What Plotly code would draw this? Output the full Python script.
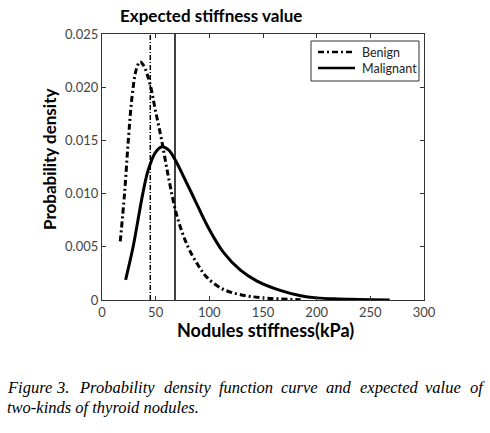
import plotly.graph_objects as go

# Benign probability density
benign_x = [17, 21, 24.5, 28, 32, 35.5, 39, 44.7, 49.4, 55.6, 62, 69, 76, 82, 90, 98, 113, 129, 150, 185]
benign_y = [0.0055, 0.0100, 0.0150, 0.0191, 0.0217, 0.0224, 0.0220, 0.0203, 0.0180, 0.0150, 0.0115,
            0.0082, 0.0060, 0.0046, 0.0032, 0.0021, 0.0010, 0.0005, 0.0002, 0.00003]

# Malignant probability density
malig_x = [22, 29, 38, 43, 50, 56, 62, 68, 76, 87, 98, 113, 129, 144, 166, 185, 200, 220, 240, 268]
malig_y = [0.0019, 0.0050, 0.0100, 0.0122, 0.0139, 0.0144, 0.0141, 0.0132, 0.0116, 0.0093, 0.0070,
           0.0045, 0.0028, 0.0018, 0.0009, 0.0004, 0.0002, 0.0001, 0.00004, 0.00001]

# Expected stiffness values
benign_expected = 45
malig_expected = 68

x_ticks = [0, 50, 100, 150, 200, 250, 300]
y_ticks = [0, 0.005, 0.010, 0.015, 0.020, 0.025]
y_tick_text = ["0", "0.005", "0.010", "0.015", "0.020", "0.025"]

series_names = ["Benign", "Malignant"]
title_text = "Expected stiffness value"
x_title = "Nodules stiffness(kPa)"
y_title = "Probability density"
caption_1 = "Figure 3. Probability density function curve and expected value of"
caption_2 = "two-kinds of thyroid nodules."

BENIGN_DASH = "6px,3px,2px,3px"

fig = go.Figure()
fig.add_trace(go.Scatter(x=benign_x, y=benign_y, mode="lines", name=series_names[0], showlegend=False,
                         line=dict(color="black", width=3, dash=BENIGN_DASH, shape="spline")))
fig.add_trace(go.Scatter(x=malig_x, y=malig_y, mode="lines", name=series_names[1], showlegend=False,
                         line=dict(color="black", width=3, shape="spline")))
fig.add_trace(go.Scatter(x=[benign_expected, benign_expected], y=[0, y_ticks[-1]], mode="lines",
                         showlegend=False, line=dict(color="black", width=1.5, dash="5px,2px,1px,2px")))
fig.add_trace(go.Scatter(x=[malig_expected, malig_expected], y=[0, y_ticks[-1]], mode="lines",
                         showlegend=False, line=dict(color="black", width=1.5)))

axis_common = dict(showline=True, linecolor="#333", linewidth=1.2, mirror="ticks", ticks="inside",
                   ticklen=4, tickcolor="#333", showgrid=False, zeroline=False, automargin=False,
                   tickfont=dict(family="Lato", size=13, color="#444"))

fig.update_xaxes(range=[0, 300], tickvals=x_ticks, **axis_common)
fig.update_yaxes(range=[0, 0.025], tickvals=y_ticks, ticktext=y_tick_text, **axis_common)

# plot area in pixels: left 102, right 424, top 34, bottom 300
PL, PR, PT, PB = 102, 424, 34, 300


def px_x(p):
    return (p - PL) / (PR - PL)


def px_y(p):
    return (PB - p) / (PB - PT)


bold = dict(family="Lato", color="black", weight="bold")
annotations = [
    dict(text=title_text, x=px_x(211), y=px_y(15), font=dict(size=17, **bold)),
    dict(text=x_title, x=px_x(265), y=px_y(330), font=dict(size=18, **bold)),
    dict(text=y_title, x=px_x(49), y=px_y(160), textangle=-90, font=dict(size=17, **bold)),
]
for a in annotations:
    a.update(xref="paper", yref="paper", xanchor="center", yanchor="middle", showarrow=False)

# legend box drawn by hand (box, line samples and labels)
shapes = [dict(type="rect", xref="paper", yref="paper", x0=px_x(311), x1=px_x(419), y0=px_y(81), y1=px_y(41),
               line=dict(color="#333", width=1), fillcolor="white", layer="above")]
legend_rows = [52, 68]
legend_dash = [BENIGN_DASH, "solid"]
for name, row, dash in zip(series_names, legend_rows, legend_dash):
    shapes.append(dict(type="line", xref="paper", yref="paper", x0=px_x(318), x1=px_x(355),
                       y0=px_y(row), y1=px_y(row), line=dict(color="black", width=2.5, dash=dash),
                       layer="above"))
    annotations.append(dict(text=name, x=px_x(360), y=px_y(row), xref="paper", yref="paper",
                            xanchor="left", yanchor="middle", showarrow=False,
                            font=dict(family="Lato", size=12.5, color="#222")))

# caption, first line justified across the page width
cap_font = dict(family="Liberation Serif", size=16.5, color="black")
word_starts = [5, 54, 77, 162, 217, 279, 324, 358, 423, 468]
for w, xs in zip(caption_1.split(" "), word_starts):
    annotations.append(dict(text="<i>" + w + "</i>", x=px_x(xs), y=px_y(387), xref="paper", yref="paper",
                            xanchor="left", yanchor="middle", showarrow=False, font=cap_font))
annotations.append(dict(text="<i>" + caption_2 + "</i>", x=px_x(5), y=px_y(408), xref="paper", yref="paper",
                        xanchor="left", yanchor="middle", showarrow=False, font=cap_font))

fig.update_layout(
    width=490, height=433,
    margin=dict(l=PL, r=490 - PR, t=PT, b=433 - PB),
    paper_bgcolor="white", plot_bgcolor="white",
    showlegend=False,
    shapes=shapes,
    annotations=annotations,
)

fig.write_html("out.html", config={"displayModeBar": False},
               post_script="document.body.style.margin='0';")
